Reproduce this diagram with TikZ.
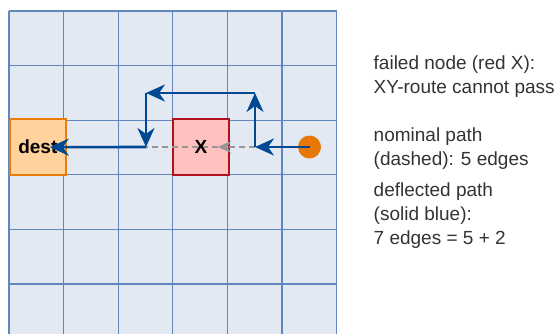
\documentclass[tikz,border=0pt]{standalone}
\usepackage{fontspec}
\setmainfont{Liberation Sans}
\usetikzlibrary{arrows.meta}
\definecolor{gridfill}{RGB}{226,233,243}
\definecolor{gridline}{RGB}{96,135,190}
\definecolor{destfill}{RGB}{255,210,158}
\definecolor{destline}{RGB}{235,125,10}
\definecolor{xfill}{RGB}{255,192,192}
\definecolor{xline}{RGB}{178,18,30}
\definecolor{dotc}{RGB}{232,120,5}
\definecolor{pathblue}{RGB}{0,72,145}
\definecolor{nomgray}{RGB}{150,150,150}
\definecolor{txt}{RGB}{51,51,51}
\tikzset{
  gridstroke/.style={draw=gridline, line width=1.3pt},
  cellbox/.style={rectangle, line width=2pt, minimum width=56pt, minimum height=56pt, inner sep=0pt,
     font=\fontsize{19}{23}\selectfont\bfseries},
  destbox/.style={cellbox, draw=destline, fill=destfill},
  failbox/.style={cellbox, draw=xline, fill=xfill},
  bluearrow/.style={draw=pathblue, line width=2.6pt, -{Stealth[length=19pt,width=17pt,inset=6pt]}},
  nominal/.style={draw=nomgray, line width=1.8pt, dash pattern=on 6pt off 4pt},
  legend/.style={anchor=base west, inner sep=0pt, text=txt, font=\fontsize{19}{23}\selectfont}
}
\begin{document}
\begin{tikzpicture}[x=1pt,y=-1pt]
\useasboundingbox (0,0) rectangle (559,334);
\begin{scope}
  \clip (0,0) rectangle (559,334);
  \fill[gridfill] (9,11) rectangle (336.6,338.6);
  \foreach \i in {0,...,6} {
    \draw[gridstroke] ({9+54.6*\i},11) -- ({9+54.6*\i},338.6);
    \draw[gridstroke] (9,{11+54.6*\i}) -- (336.6,{11+54.6*\i});
  }
\end{scope}

\node[destbox] (dest) at (37.8,147.2) {dest};
\node[failbox] (xbox) at (201,147.2) {};

\coordinate (c1) at (255,147);
\coordinate (c2) at (255,93);
\coordinate (c3) at (146,93);
\coordinate (c4) at (146,147);
\coordinate (g) at (218,147);

% nominal (dashed) path
\draw[nominal] (g) -- (c4);
\draw[nominal, -{Stealth[length=13pt,width=12pt,inset=4pt]}] (c1) -- (g);

\node[inner sep=0pt, font=\fontsize{19}{23}\selectfont\bfseries] (xlab) at (xbox.center) {X};

\node[circle, fill=dotc, minimum size=23pt, inner sep=0pt] (src) at (309.5,147) {};

% deflected path
\draw[bluearrow] (src.center) -- (c1);
\draw[bluearrow] (c1) -- (c2);
\draw[bluearrow] (c2) -- (c3);
\draw[bluearrow] (c3) -- (c4);
\draw[bluearrow, shorten >=12pt] (c4) -- (dest.center);

\node[legend] (t1) at (373.5,69.5) {failed node (red X):};
\node[legend] (t2) at (373.5,94) {XY-route cannot pass};
\node[legend] (t3) at (373.5,141.7) {nominal path};
\node[legend] (t4) at (373.5,165.7) {(dashed): 5 edges};
\node[legend] (t5) at (373.5,196.7) {deflected path};
\node[legend] (t6) at (373.5,220.5) {(solid blue):};
\node[legend] (t7) at (373.5,244.5) {7 edges = 5 + 2};
\end{tikzpicture}
\end{document}
